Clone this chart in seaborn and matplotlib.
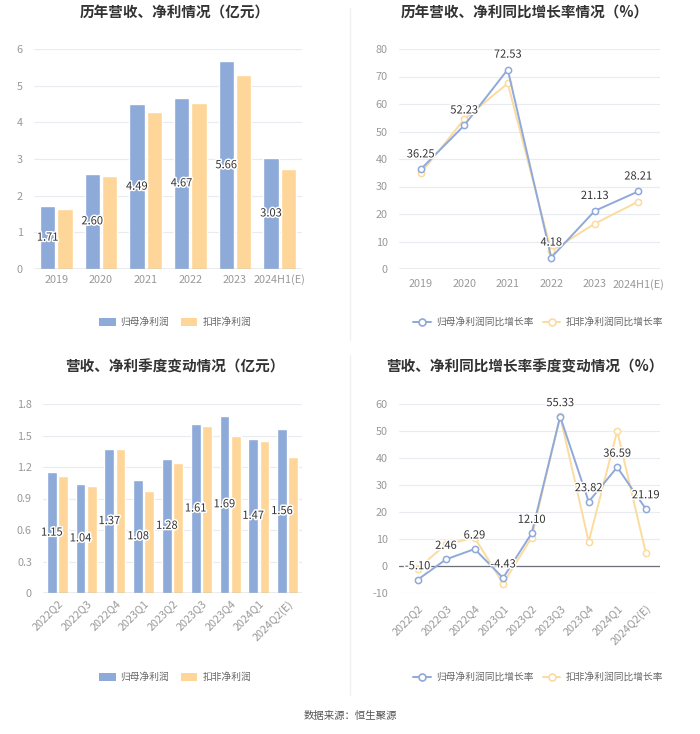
import matplotlib
matplotlib.use("Agg")
import matplotlib.pyplot as plt
import matplotlib.patheffects as pe
from matplotlib.lines import Line2D
from matplotlib.patches import Patch
import seaborn as sns
import pandas as pd
import numpy as np

sns.set_theme(style="white")
plt.rcParams['font.family'] = ['Noto Sans CJK SC', 'DejaVu Sans']
plt.rcParams['axes.unicode_minus'] = False

BLUE = "#8DAAD9"
ORANGE = "#FFD699"
LBLUE = "#8FA9DA"
LORANGE = "#FCDB9E"

years = ["2019", "2020", "2021", "2022", "2023", "2024H1(E)"]
net_profit = [1.71, 2.60, 4.49, 4.67, 5.66, 3.03]
deducted_profit = [1.65, 2.55, 4.27, 4.53, 5.28, 2.74]

growth_net = [36.25, 52.23, 72.53, 4.18, 21.13, 28.21]
growth_deducted = [34.8, 54.5, 67.5, 6.5, 16.5, 24.5]

quarters = ["2022Q2", "2022Q3", "2022Q4", "2023Q1", "2023Q2", "2023Q3", "2023Q4", "2024Q1", "2024Q2(E)"]
q_net = [1.15, 1.04, 1.37, 1.08, 1.28, 1.61, 1.69, 1.47, 1.56]
q_deducted = [1.11, 1.02, 1.37, 0.97, 1.24, 1.59, 1.50, 1.45, 1.30]

q_growth_net = [-5.10, 2.46, 6.29, -4.43, 12.10, 55.33, 23.82, 36.59, 21.19]
q_growth_deducted = [-1.0, 8.0, 10.5, -6.5, 10.5, 55.5, 9.0, 50.0, 5.0]

name_net = "归母净利润"
name_ded = "扣非净利润"
name_gnet = "归母净利润同比增长率"
name_gded = "扣非净利润同比增长率"

W, H = 700, 734
fig = plt.figure(figsize=(W / 100, H / 100), dpi=100)
fig.patch.set_facecolor("white")

def ax_px(l, t, r, b):
    return fig.add_axes([l / W, 1 - b / H, (r - l) / W, (b - t) / H])

TICKC = "#999999"
stroke = [pe.withStroke(linewidth=2.2, foreground="white")]

def style_axes(ax, ymin, ymax, yticks, ylabels):
    ax.set_ylim(ymin, ymax)
    ax.set_yticks(yticks)
    ax.set_yticklabels(ylabels, color=TICKC, fontsize=7.8)
    for s in ["top", "right", "left", "bottom"]:
        ax.spines[s].set_visible(False)
    ax.grid(axis="y", color="#E8EBF0", linewidth=0.8)
    ax.set_axisbelow(True)
    ax.axhline(0, color="#6E7079", linewidth=0.9, zorder=1)
    ax.tick_params(axis="y", length=0, pad=8)
    ax.tick_params(axis="x", colors=TICKC, labelsize=7.8, length=3, color="#6E7079", direction="out")
    ax.set_xlabel("")
    ax.set_ylabel("")
    ax.set_facecolor("white")

def bar_chart(ax, cats, a, b, ymax, yticks, ylabels, rot=False):
    df = pd.DataFrame({"cat": cats * 2, "val": a + b,
                       "series": [name_net] * len(cats) + [name_ded] * len(cats)})
    sns.barplot(data=df, x="cat", y="val", hue="series", palette=[BLUE, ORANGE],
                width=0.78, gap=0.12, ax=ax, legend=False, saturation=1)
    ax.set_xlim(-0.5, len(cats) - 0.5)
    style_axes(ax, 0, ymax, yticks, ylabels)
    bars = ax.patches[:len(cats)]
    for p, v in zip(bars, a):
        ax.text(p.get_x() + p.get_width() / 2, v / 2, f"{v:.2f}", ha="center", va="center",
                fontsize=8, color="#333333", path_effects=stroke, zorder=5)
    if rot:
        ax.set_xticks(range(len(cats)))
        ax.set_xticklabels(cats, rotation=45, ha="right", rotation_mode="anchor")
    ax.tick_params(axis="x", length=0, pad=4)

def line_chart(ax, cats, a, b, ymin, ymax, yticks, ylabels, xlim, rot=False):
    x = list(range(len(cats)))
    df = pd.DataFrame({"x": x * 2, "val": b + a,
                       "series": [name_gded] * len(cats) + [name_gnet] * len(cats)})
    sns.lineplot(data=df, x="x", y="val", hue="series", palette=[LORANGE, LBLUE], ax=ax,
                 marker="o", markersize=4.5, markerfacecolor="white", markeredgewidth=1.1,
                 linewidth=1.4, legend=False)
    for ln, c in zip(ax.lines, [LORANGE, LBLUE]):
        ln.set_markeredgecolor(c)
    ax.set_xlim(*xlim)
    style_axes(ax, ymin, ymax, yticks, ylabels)
    ax.set_xticks(x)
    if rot:
        ax.set_xticklabels(cats, rotation=45, ha="right", rotation_mode="anchor")
    else:
        ax.set_xticklabels(cats)
    ax.tick_params(axis="x", pad=4)
    off = (ymax - ymin) * 0.045
    for xi, v in zip(x, a):
        ax.text(xi, v + off, f"{v:.2f}", ha="center", va="bottom", fontsize=8,
                color="#333333", path_effects=stroke, zorder=6)

# top-left
ax1 = ax_px(34, 49, 302, 269)
bar_chart(ax1, years, net_profit, deducted_profit, 6, range(0, 7), [str(i) for i in range(7)])
# top-right
ax2 = ax_px(399, 49, 660, 269)
line_chart(ax2, years, growth_net, growth_deducted, 0, 80, range(0, 81, 10),
           [str(i) for i in range(0, 81, 10)], (-0.5, 5.5))
# bottom-left
ax3 = ax_px(43, 404, 302, 593)
qt = [0, 0.3, 0.6, 0.9, 1.2, 1.5, 1.8]
bar_chart(ax3, quarters, q_net, q_deducted, 1.8, qt, ["0", "0.3", "0.6", "0.9", "1.2", "1.5", "1.8"], rot=True)
# bottom-right
ax4 = ax_px(399, 404, 660, 593)
line_chart(ax4, quarters, q_growth_net, q_growth_deducted, -10, 60, range(-10, 61, 10),
           [str(i) for i in range(-10, 61, 10)], (-0.65, 8.5), rot=True)

# titles
TC = "#333333"
fig.text(175 / W, 1 - 13 / H, "历年营收、净利情况（亿元）", ha="center", va="center", fontsize=10.5, fontweight="bold", color=TC)
fig.text(525 / W, 1 - 13 / H, "历年营收、净利同比增长率情况（%）", ha="center", va="center", fontsize=10.5, fontweight="bold", color=TC)
fig.text(175 / W, 1 - 367 / H, "营收、净利季度变动情况（亿元）", ha="center", va="center", fontsize=10.5, fontweight="bold", color=TC)
fig.text(525 / W, 1 - 367 / H, "营收、净利同比增长率季度变动情况（%）", ha="center", va="center", fontsize=10.5, fontweight="bold", color=TC)

# legends
def bar_legend(y):
    h = [Patch(facecolor=BLUE, edgecolor="none"), Patch(facecolor=ORANGE, edgecolor="none")]
    fig.legend(h, [name_net, name_ded], loc="center", bbox_to_anchor=(175 / W, 1 - y / H),
               ncol=2, frameon=False, fontsize=7, labelcolor="#666666", handlelength=1.7,
               handleheight=0.9, columnspacing=1.2, handletextpad=0.5)

def line_legend(y):
    h = [Line2D([], [], color=LBLUE, marker="o", markerfacecolor="white", markeredgecolor=LBLUE, markersize=5, markeredgewidth=1.2, linewidth=1.4),
         Line2D([], [], color=LORANGE, marker="o", markerfacecolor="white", markeredgecolor=LORANGE, markersize=5, markeredgewidth=1.2, linewidth=1.4)]
    fig.legend(h, [name_gnet, name_gded], loc="center", bbox_to_anchor=(538 / W, 1 - y / H),
               ncol=2, frameon=False, fontsize=7, labelcolor="#666666", handlelength=1.8,
               columnspacing=1.0, handletextpad=0.5)

bar_legend(322)
line_legend(322)
bar_legend(677)
line_legend(677)

# divider
fig.add_artist(Line2D([350 / W, 350 / W], [1 - 8 / H, 1 - 340 / H], color="#F0F0F0", linewidth=1))
fig.add_artist(Line2D([350 / W, 350 / W], [1 - 355 / H, 1 - 695 / H], color="#F0F0F0", linewidth=1))

fig.text(350 / W, 1 - 716 / H, "数据来源：恒生聚源", ha="center", va="center", fontsize=7.5, color="#555555")

fig.savefig("out.png", dpi=100, facecolor="white")
